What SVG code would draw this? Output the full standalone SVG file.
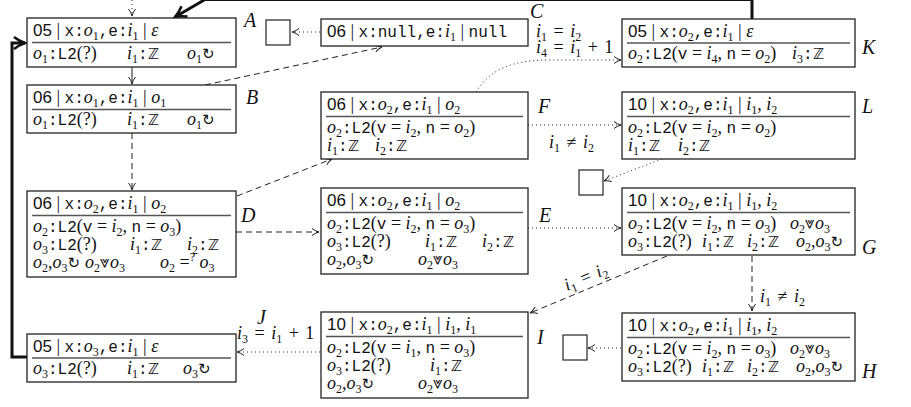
<svg xmlns="http://www.w3.org/2000/svg" width="911" height="407" viewBox="0 0 911 407">
<style>
text { font-family: "Liberation Serif", serif; font-size: 18px; fill: #111; }
.i { font-style: italic; }
.m { font-family: "Liberation Mono", monospace; font-size: 16px; }
.s { font-family: "Liberation Sans", sans-serif; font-size: 17px; }
.u { font-size: 12px; baseline-shift: -4px; font-style: normal; }
.p { font-size: 12px; baseline-shift: 7px; font-style: normal; }
.z { font-family: "DejaVu Sans", sans-serif; font-size: 15px; }
.g { font-family: "DejaVu Sans", sans-serif; font-size: 15px; }
.w { font-family: "DejaVu Sans", sans-serif; font-size: 17px; }
.eq { word-spacing: 2px; }
.lab { font-style: italic; font-size: 20px; }
.box { fill: #fff; stroke: #222; stroke-width: 1.3; }
.sep { stroke: #555; stroke-width: 1.3; }
.sq { fill: #fff; stroke: #222; stroke-width: 1.2; }
.c { fill: none; stroke: #222; stroke-width: 1; }
.dash { stroke-dasharray: 6 4; }
.dot { stroke-dasharray: 1 3; }
.thick { fill: none; stroke: #111; stroke-width: 3; }
</style>
<defs>
<marker id="ah" markerWidth="10" markerHeight="10" refX="8" refY="4" orient="auto" markerUnits="userSpaceOnUse">
<path d="M1,0.5 Q4,3 8,4 Q4,5 1,7.5" fill="none" stroke="#222" stroke-width="1"/>
</marker>
<marker id="tah" markerWidth="16" markerHeight="16" refX="12" refY="7" orient="auto" markerUnits="userSpaceOnUse">
<path d="M1,1 Q6,5 12,7 Q6,9 1,13" fill="none" stroke="#111" stroke-width="2.6"/>
</marker>
</defs>

<g id="connectors">
<path class="c dot" d="M132,0 V16" marker-end="url(#ah)"/>
<path class="thick" d="M752,19 V-0.5 H205 L175,17" marker-end="url(#tah)"/>
<path class="c" d="M132,67 V84" marker-end="url(#ah)"/>
<path class="c dash" d="M205,85 L382,47" marker-end="url(#ah)"/>
<path class="c dot" d="M320,32 L292,32" marker-end="url(#ah)"/>
<path class="c dash" d="M132,133 V190" marker-end="url(#ah)"/>
<path class="c dash" d="M237,196 L332,159" marker-end="url(#ah)"/>
<path class="c dash" d="M236,232 H319" marker-end="url(#ah)"/>
<path class="c dot" d="M476,92 C490,70 510,60 550,60 L621,60" marker-end="url(#ah)"/>
<path class="c dot" d="M528,125 H621" marker-end="url(#ah)"/>
<path class="c dot" d="M662,159 L604,181" marker-end="url(#ah)"/>
<path class="c dot" d="M528,228 H621" marker-end="url(#ah)"/>
<path class="c dash" d="M667,256 L530,313" marker-end="url(#ah)"/>
<path class="c dash" d="M752,256 V311" marker-end="url(#ah)"/>
<path class="c dot" d="M621,348 H588" marker-end="url(#ah)"/>
<path class="c dot" d="M320,352 H237" marker-end="url(#ah)"/>
<path class="thick" d="M27,357 H12 V43 H25" marker-end="url(#tah)"/>
<text class="eq" x="536" y="37"><tspan class="i">i</tspan><tspan class="u">1</tspan> = <tspan class="i">i</tspan><tspan class="u">2</tspan></text>
<text class="eq" x="536" y="53"><tspan class="i">i</tspan><tspan class="u">4</tspan> = <tspan class="i">i</tspan><tspan class="u">1</tspan> + 1</text>
<text class="eq" x="549" y="148"><tspan class="i">i</tspan><tspan class="u">1</tspan> ≠ <tspan class="i">i</tspan><tspan class="u">2</tspan></text>
<text class="eq" x="567" y="291" transform="rotate(-22.9 567 291)"><tspan class="i">i</tspan><tspan class="u">1</tspan> = <tspan class="i">i</tspan><tspan class="u">2</tspan></text>
<text class="eq" x="760" y="302"><tspan class="i">i</tspan><tspan class="u">1</tspan> ≠ <tspan class="i">i</tspan><tspan class="u">2</tspan></text>
<text class="eq" x="237" y="339"><tspan class="i">i</tspan><tspan class="u">3</tspan> = <tspan class="i">i</tspan><tspan class="u">1</tspan> + 1</text>
</g>

<g id="nodeA">
<rect class="box" x="27" y="18" width="209" height="49"/>
<line class="sep" x1="32" y1="42.5" x2="231" y2="42.5"/>
<text x="33" y="36"><tspan class="s">05</tspan> | <tspan class="m">x:</tspan><tspan class="i">o</tspan><tspan class="u">1</tspan><tspan class="m">,e:</tspan><tspan class="i">i</tspan><tspan class="u">1</tspan> | <tspan class="i">ε</tspan></text>
<text x="33" y="59"><tspan class="i">o</tspan><tspan class="u">1</tspan><tspan class="m">:L2</tspan>(?)<tspan x="127" class="i">i</tspan><tspan class="u">1</tspan><tspan class="m">:</tspan><tspan class="z">ℤ</tspan><tspan x="187" class="i">o</tspan><tspan class="u">1</tspan><tspan class="g">↻</tspan></text>
<text class="lab" x="244" y="27">A</text>
</g>

<g id="nodeB">
<rect class="box" x="27" y="85" width="209" height="48"/>
<line class="sep" x1="32" y1="109.5" x2="231" y2="109.5"/>
<text x="33" y="103"><tspan class="s">06</tspan> | <tspan class="m">x:</tspan><tspan class="i">o</tspan><tspan class="u">1</tspan><tspan class="m">,e:</tspan><tspan class="i">i</tspan><tspan class="u">1</tspan> | <tspan class="i">o</tspan><tspan class="u">1</tspan></text>
<text x="33" y="125"><tspan class="i">o</tspan><tspan class="u">1</tspan><tspan class="m">:L2</tspan>(?)<tspan x="127" class="i">i</tspan><tspan class="u">1</tspan><tspan class="m">:</tspan><tspan class="z">ℤ</tspan><tspan x="187" class="i">o</tspan><tspan class="u">1</tspan><tspan class="g">↻</tspan></text>
<text class="lab" x="246" y="104">B</text>
</g>

<g id="nodeD">
<rect class="box" x="27" y="191" width="209" height="86"/>
<line class="sep" x1="32" y1="215.5" x2="231" y2="215.5"/>
<text x="33" y="209"><tspan class="s">06</tspan> | <tspan class="m">x:</tspan><tspan class="i">o</tspan><tspan class="u">2</tspan><tspan class="m">,e:</tspan><tspan class="i">i</tspan><tspan class="u">1</tspan> | <tspan class="i">o</tspan><tspan class="u">2</tspan></text>
<text x="33" y="232"><tspan class="i">o</tspan><tspan class="u">2</tspan><tspan class="m">:L2</tspan>(<tspan class="m">v</tspan> = <tspan class="i">i</tspan><tspan class="u">2</tspan>, <tspan class="m">n</tspan> = <tspan class="i">o</tspan><tspan class="u">3</tspan>)</text>
<text x="33" y="250"><tspan class="i">o</tspan><tspan class="u">3</tspan><tspan class="m">:L2</tspan>(?)<tspan x="130" class="i">i</tspan><tspan class="u">1</tspan><tspan class="m">:</tspan><tspan class="z">ℤ</tspan><tspan x="187" class="i">i</tspan><tspan class="u">2</tspan><tspan class="m">:</tspan><tspan class="z">ℤ</tspan></text>
<text x="33" y="268"><tspan class="i">o</tspan><tspan class="u">2</tspan>,<tspan class="i">o</tspan><tspan class="u">3</tspan><tspan class="g">↻</tspan><tspan x="85" class="i">o</tspan><tspan class="u">2</tspan><tspan class="w">⩔</tspan><tspan class="i">o</tspan><tspan class="u">3</tspan><tspan x="160" class="i">o</tspan><tspan class="u">2</tspan> =<tspan class="p">?</tspan> <tspan class="i">o</tspan><tspan class="u">3</tspan></text>
<text class="lab" x="241" y="222">D</text>
</g>

<g id="nodeJ">
<rect class="box" x="27" y="334" width="209" height="48"/>
<line class="sep" x1="32" y1="358" x2="231" y2="358"/>
<text x="33" y="352"><tspan class="s">05</tspan> | <tspan class="m">x:</tspan><tspan class="i">o</tspan><tspan class="u">3</tspan><tspan class="m">,e:</tspan><tspan class="i">i</tspan><tspan class="u">1</tspan> | <tspan class="i">ε</tspan></text>
<text x="33" y="374"><tspan class="i">o</tspan><tspan class="u">3</tspan><tspan class="m">:L2</tspan>(?)<tspan x="127" class="i">i</tspan><tspan class="u">1</tspan><tspan class="m">:</tspan><tspan class="z">ℤ</tspan><tspan x="183" class="i">o</tspan><tspan class="u">3</tspan><tspan class="g">↻</tspan></text>
<text class="lab" x="257" y="324">J</text>
</g>

<g id="nodeC">
<rect class="box" x="321" y="19" width="207" height="27"/>
<text x="327" y="37"><tspan class="s">06</tspan> | <tspan class="m">x:null,e:</tspan><tspan class="i">i</tspan><tspan class="u">1</tspan> | <tspan class="m">null</tspan></text>
<text class="lab" x="530" y="18">C</text>
</g>

<g id="nodeF">
<rect class="box" x="321" y="92" width="207" height="67"/>
<line class="sep" x1="326" y1="116.5" x2="523" y2="116.5"/>
<text x="327" y="110"><tspan class="s">06</tspan> | <tspan class="m">x:</tspan><tspan class="i">o</tspan><tspan class="u">2</tspan><tspan class="m">,e:</tspan><tspan class="i">i</tspan><tspan class="u">1</tspan> | <tspan class="i">o</tspan><tspan class="u">2</tspan></text>
<text x="327" y="133"><tspan class="i">o</tspan><tspan class="u">2</tspan><tspan class="m">:L2</tspan>(<tspan class="m">v</tspan> = <tspan class="i">i</tspan><tspan class="u">2</tspan>, <tspan class="m">n</tspan> = <tspan class="i">o</tspan><tspan class="u">2</tspan>)</text>
<text x="327" y="151"><tspan class="i">i</tspan><tspan class="u">1</tspan><tspan class="m">:</tspan><tspan class="z">ℤ</tspan><tspan x="375" class="i">i</tspan><tspan class="u">2</tspan><tspan class="m">:</tspan><tspan class="z">ℤ</tspan></text>
<text class="lab" x="538" y="113">F</text>
</g>

<g id="nodeE">
<rect class="box" x="321" y="188" width="207" height="86"/>
<line class="sep" x1="326" y1="212.5" x2="523" y2="212.5"/>
<text x="327" y="206"><tspan class="s">06</tspan> | <tspan class="m">x:</tspan><tspan class="i">o</tspan><tspan class="u">2</tspan><tspan class="m">,e:</tspan><tspan class="i">i</tspan><tspan class="u">1</tspan> | <tspan class="i">o</tspan><tspan class="u">2</tspan></text>
<text x="327" y="229"><tspan class="i">o</tspan><tspan class="u">2</tspan><tspan class="m">:L2</tspan>(<tspan class="m">v</tspan> = <tspan class="i">i</tspan><tspan class="u">2</tspan>, <tspan class="m">n</tspan> = <tspan class="i">o</tspan><tspan class="u">3</tspan>)</text>
<text x="327" y="247"><tspan class="i">o</tspan><tspan class="u">3</tspan><tspan class="m">:L2</tspan>(?)<tspan x="425" class="i">i</tspan><tspan class="u">1</tspan><tspan class="m">:</tspan><tspan class="z">ℤ</tspan><tspan x="482" class="i">i</tspan><tspan class="u">2</tspan><tspan class="m">:</tspan><tspan class="z">ℤ</tspan></text>
<text x="327" y="265"><tspan class="i">o</tspan><tspan class="u">2</tspan>,<tspan class="i">o</tspan><tspan class="u">3</tspan><tspan class="g">↻</tspan><tspan x="418" class="i">o</tspan><tspan class="u">2</tspan><tspan class="w">⩔</tspan><tspan class="i">o</tspan><tspan class="u">3</tspan></text>
<text class="lab" x="539" y="222">E</text>
</g>

<g id="nodeI">
<rect class="box" x="321" y="312" width="207" height="86"/>
<line class="sep" x1="326" y1="336.5" x2="523" y2="336.5"/>
<text x="327" y="330"><tspan class="s">10</tspan> | <tspan class="m">x:</tspan><tspan class="i">o</tspan><tspan class="u">2</tspan><tspan class="m">,e:</tspan><tspan class="i">i</tspan><tspan class="u">1</tspan> | <tspan class="i">i</tspan><tspan class="u">1</tspan>, <tspan class="i">i</tspan><tspan class="u">1</tspan></text>
<text x="327" y="353"><tspan class="i">o</tspan><tspan class="u">2</tspan><tspan class="m">:L2</tspan>(<tspan class="m">v</tspan> = <tspan class="i">i</tspan><tspan class="u">1</tspan>, <tspan class="m">n</tspan> = <tspan class="i">o</tspan><tspan class="u">3</tspan>)</text>
<text x="327" y="371"><tspan class="i">o</tspan><tspan class="u">3</tspan><tspan class="m">:L2</tspan>(?)<tspan x="430" class="i">i</tspan><tspan class="u">1</tspan><tspan class="m">:</tspan><tspan class="z">ℤ</tspan></text>
<text x="327" y="389"><tspan class="i">o</tspan><tspan class="u">2</tspan>,<tspan class="i">o</tspan><tspan class="u">3</tspan><tspan class="g">↻</tspan><tspan x="418" class="i">o</tspan><tspan class="u">2</tspan><tspan class="w">⩔</tspan><tspan class="i">o</tspan><tspan class="u">3</tspan></text>
<text class="lab" x="537" y="344">I</text>
</g>

<g id="nodeK">
<rect class="box" x="622" y="19" width="233" height="48"/>
<line class="sep" x1="627" y1="43" x2="850" y2="43"/>
<text x="628" y="37"><tspan class="s">05</tspan> | <tspan class="m">x:</tspan><tspan class="i">o</tspan><tspan class="u">2</tspan><tspan class="m">,e:</tspan><tspan class="i">i</tspan><tspan class="u">1</tspan> | <tspan class="i">ε</tspan></text>
<text x="628" y="59"><tspan class="i">o</tspan><tspan class="u">2</tspan><tspan class="m">:L2</tspan>(<tspan class="m">v</tspan> = <tspan class="i">i</tspan><tspan class="u">4</tspan>, <tspan class="m">n</tspan> = <tspan class="i">o</tspan><tspan class="u">2</tspan>)<tspan x="792" class="i">i</tspan><tspan class="u">3</tspan><tspan class="m">:</tspan><tspan class="z">ℤ</tspan></text>
<text class="lab" x="862" y="54">K</text>
</g>

<g id="nodeL">
<rect class="box" x="622" y="92" width="233" height="67"/>
<line class="sep" x1="627" y1="116.5" x2="850" y2="116.5"/>
<text x="628" y="110"><tspan class="s">10</tspan> | <tspan class="m">x:</tspan><tspan class="i">o</tspan><tspan class="u">2</tspan><tspan class="m">,e:</tspan><tspan class="i">i</tspan><tspan class="u">1</tspan> | <tspan class="i">i</tspan><tspan class="u">1</tspan>, <tspan class="i">i</tspan><tspan class="u">2</tspan></text>
<text x="628" y="133"><tspan class="i">o</tspan><tspan class="u">2</tspan><tspan class="m">:L2</tspan>(<tspan class="m">v</tspan> = <tspan class="i">i</tspan><tspan class="u">2</tspan>, <tspan class="m">n</tspan> = <tspan class="i">o</tspan><tspan class="u">2</tspan>)</text>
<text x="628" y="151"><tspan class="i">i</tspan><tspan class="u">1</tspan><tspan class="m">:</tspan><tspan class="z">ℤ</tspan><tspan x="678" class="i">i</tspan><tspan class="u">2</tspan><tspan class="m">:</tspan><tspan class="z">ℤ</tspan></text>
<text class="lab" x="862" y="113">L</text>
</g>

<g id="nodeG">
<rect class="box" x="622" y="188" width="233" height="67"/>
<line class="sep" x1="627" y1="212.5" x2="850" y2="212.5"/>
<text x="628" y="206"><tspan class="s">10</tspan> | <tspan class="m">x:</tspan><tspan class="i">o</tspan><tspan class="u">2</tspan><tspan class="m">,e:</tspan><tspan class="i">i</tspan><tspan class="u">1</tspan> | <tspan class="i">i</tspan><tspan class="u">1</tspan>, <tspan class="i">i</tspan><tspan class="u">2</tspan></text>
<text x="628" y="229"><tspan class="i">o</tspan><tspan class="u">2</tspan><tspan class="m">:L2</tspan>(<tspan class="m">v</tspan> = <tspan class="i">i</tspan><tspan class="u">2</tspan>, <tspan class="m">n</tspan> = <tspan class="i">o</tspan><tspan class="u">3</tspan>)<tspan x="790" class="i">o</tspan><tspan class="u">2</tspan><tspan class="w">⩔</tspan><tspan class="i">o</tspan><tspan class="u">3</tspan></text>
<text x="628" y="247"><tspan class="i">o</tspan><tspan class="u">3</tspan><tspan class="m">:L2</tspan>(?)<tspan x="702" class="i">i</tspan><tspan class="u">1</tspan><tspan class="m">:</tspan><tspan class="z">ℤ</tspan><tspan x="747" class="i">i</tspan><tspan class="u">2</tspan><tspan class="m">:</tspan><tspan class="z">ℤ</tspan><tspan x="796" class="i">o</tspan><tspan class="u">2</tspan>,<tspan class="i">o</tspan><tspan class="u">3</tspan><tspan class="g">↻</tspan></text>
<text class="lab" x="862" y="254">G</text>
</g>

<g id="nodeH">
<rect class="box" x="622" y="313" width="233" height="68"/>
<line class="sep" x1="627" y1="337.5" x2="850" y2="337.5"/>
<text x="628" y="331"><tspan class="s">10</tspan> | <tspan class="m">x:</tspan><tspan class="i">o</tspan><tspan class="u">2</tspan><tspan class="m">,e:</tspan><tspan class="i">i</tspan><tspan class="u">1</tspan> | <tspan class="i">i</tspan><tspan class="u">1</tspan>, <tspan class="i">i</tspan><tspan class="u">2</tspan></text>
<text x="628" y="354"><tspan class="i">o</tspan><tspan class="u">2</tspan><tspan class="m">:L2</tspan>(<tspan class="m">v</tspan> = <tspan class="i">i</tspan><tspan class="u">2</tspan>, <tspan class="m">n</tspan> = <tspan class="i">o</tspan><tspan class="u">3</tspan>)<tspan x="790" class="i">o</tspan><tspan class="u">2</tspan><tspan class="w">⩔</tspan><tspan class="i">o</tspan><tspan class="u">3</tspan></text>
<text x="628" y="372"><tspan class="i">o</tspan><tspan class="u">3</tspan><tspan class="m">:L2</tspan>(?)<tspan x="702" class="i">i</tspan><tspan class="u">1</tspan><tspan class="m">:</tspan><tspan class="z">ℤ</tspan><tspan x="747" class="i">i</tspan><tspan class="u">2</tspan><tspan class="m">:</tspan><tspan class="z">ℤ</tspan><tspan x="796" class="i">o</tspan><tspan class="u">2</tspan>,<tspan class="i">o</tspan><tspan class="u">3</tspan><tspan class="g">↻</tspan></text>
<text class="lab" x="862" y="378">H</text>
</g>

<g id="sinkA"><rect class="sq" x="266" y="20" width="24" height="25"/></g>
<g id="sinkL"><rect class="sq" x="579" y="170" width="24" height="25"/></g>
<g id="sinkH"><rect class="sq" x="563" y="335" width="24" height="25"/></g>
</svg>
